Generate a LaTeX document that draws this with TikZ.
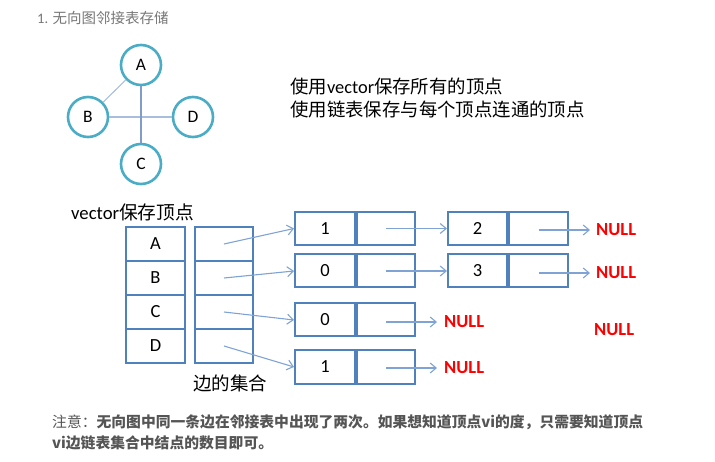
\documentclass[tikz,border=0pt]{standalone}
\usepackage{fontspec}
\setmainfont{Carlito}
\newfontfamily\cjk{Noto Sans CJK SC}
\usetikzlibrary{arrows.meta}
\definecolor{circ}{HTML}{4BACC6}
\definecolor{boxblue}{HTML}{4F81BD}
\definecolor{arrblue}{HTML}{7FA3D4}
\definecolor{edgeA}{HTML}{A9BEDD}
\definecolor{edgeB}{HTML}{7F9CCB}
\definecolor{nullred}{HTML}{FF0000}
\definecolor{titlegray}{HTML}{777777}
\definecolor{notegray}{HTML}{555555}
\tikzset{
  vtx/.style={circle,draw=circ,line width=2.6pt,minimum size=40pt,inner sep=0pt,font=\fontsize{17.5}{20}\selectfont},
  gedge/.style={draw=edgeA,line width=1.1pt},
  gedgev/.style={draw=edgeB,line width=1.1pt},
  cellbox/.style={draw=boxblue,line width=2pt,inner sep=0pt,minimum height=34pt,font=\fontsize{18.5}{20}\selectfont},
  vcell/.style={cellbox,minimum width=59pt},
  ecell/.style={cellbox,minimum width=58pt},
  dcell/.style={cellbox,minimum width=60pt,minimum height=33pt},
  pcell/.style={cellbox,minimum width=58pt,minimum height=33pt},
  arr/.style={draw=arrblue,line width=1.1pt,-{Straight Barb[length=6pt,width=10pt]}},
  nulltxt/.style={anchor=west,inner sep=0pt,text=nullred,font=\fontsize{18.5}{20}\selectfont\bfseries},
  bigtxt/.style={anchor=west,inner sep=0pt,font=\fontsize{18.4}{20}\selectfont},
  notetxt/.style={anchor=west,inner sep=0pt,text=notegray,font=\fontsize{14.8}{18}\selectfont\cjk},
}
\begin{document}
\begin{tikzpicture}[x=1pt,y=-1pt]
\useasboundingbox (0,0) rectangle (715,462);
% title
\node[anchor=west,inner sep=0pt,text=titlegray,font=\fontsize{14.5}{16}\selectfont] (title) at (37,18) {1. {\cjk 无向图邻接表存储}};
% graph
\node[vtx] (A) at (141,65) {A};
\node[vtx] (B) at (88,117) {B};
\node[vtx] (D) at (193,117) {D};
\node[vtx] (C) at (141,164) {C};
\draw[gedge] (A) -- (B);
\draw[gedge] (B) -- (D);
\draw[gedgev] (A) -- (C);
% right text
\node[bigtxt] (t1) at (290,87) {{\cjk 使用}vector{\cjk 保存所有的顶点}};
\node[bigtxt] (t2) at (290,110) {\cjk 使用链表保存与每个顶点连通的顶点};
% vector label
\node[anchor=west,inner sep=0pt,font=\fontsize{18.7}{20}\selectfont] (vl) at (71,212) {vector{\cjk 保存顶点}};
% vertex cells
\node[vcell] (v1) at (155.5,244) {A};
\node[vcell] (v2) at (155.5,278) {B};
\node[vcell] (v3) at (155.5,312) {C};
\node[vcell] (v4) at (155.5,346) {D};
% edge cells
\node[ecell] (e1) at (224,244) {};
\node[ecell] (e2) at (224,278) {};
\node[ecell] (e3) at (224,312) {};
\node[ecell] (e4) at (224,346) {};
\node[inner sep=0pt,font=\fontsize{18.5}{20}\cjk] (el) at (230,383) {边的集合};
% list nodes
\node[dcell] (d1) at (325,228.5) {1};
\node[pcell,anchor=west] (p1) at (d1.east) {};
\node[dcell] (d2) at (325,271) {0};
\node[pcell,anchor=west] (p2) at (d2.east) {};
\node[dcell] (d3) at (325,320) {0};
\node[pcell,anchor=west] (p3) at (d3.east) {};
\node[dcell] (d4) at (325,367) {1};
\node[pcell,anchor=west] (p4) at (d4.east) {};
\node[dcell,minimum width=59pt] (d5) at (477.5,228.5) {2};
\node[pcell,minimum width=59pt,anchor=west] (p5) at (d5.east) {};
\node[dcell,minimum width=59pt] (d6) at (477.5,271) {3};
\node[pcell,minimum width=59pt,anchor=west] (p6) at (d6.east) {};
% NULLs
\node[nulltxt] (n1) at (596,230) {NULL};
\node[nulltxt] (n2) at (596,273) {NULL};
\node[nulltxt] (n3) at (444,322) {NULL};
\node[nulltxt] (n4) at (444,368) {NULL};
\node[nulltxt] (n5) at (594,330) {NULL};
% arrows
\draw[arr] (e1.center) -- (d1.west);
\draw[arr] (e2.center) -- (d2.west);
\draw[arr] (e3.center) -- (d3.west);
\draw[arr] (e4.center) -- (d4.west);
\draw[arr] (p1.center) -- (d5.west);
\draw[arr] (p2.center) -- (d6.west);
\draw[arr,shorten >=6pt] (p5.center |- n1.west) -- (n1.west);
\draw[arr,shorten >=6pt] (p6.center |- n2.west) -- (n2.west);
\draw[arr,shorten >=7pt] (p3.center |- n3.west) -- (n3.west);
\draw[arr,shorten >=7pt] (p4.center |- n4.west) -- (n4.west);
% note
\node[notetxt] (note1) at (52,422) {注意：{\bfseries 无向图中同一条边在邻接表中出现了两次。如果想知道顶点vi的度，只需要知道顶点}};
\node[notetxt] (note2) at (52,443) {\bfseries vi边链表集合中结点的数目即可。};
\end{tikzpicture}
\end{document}
